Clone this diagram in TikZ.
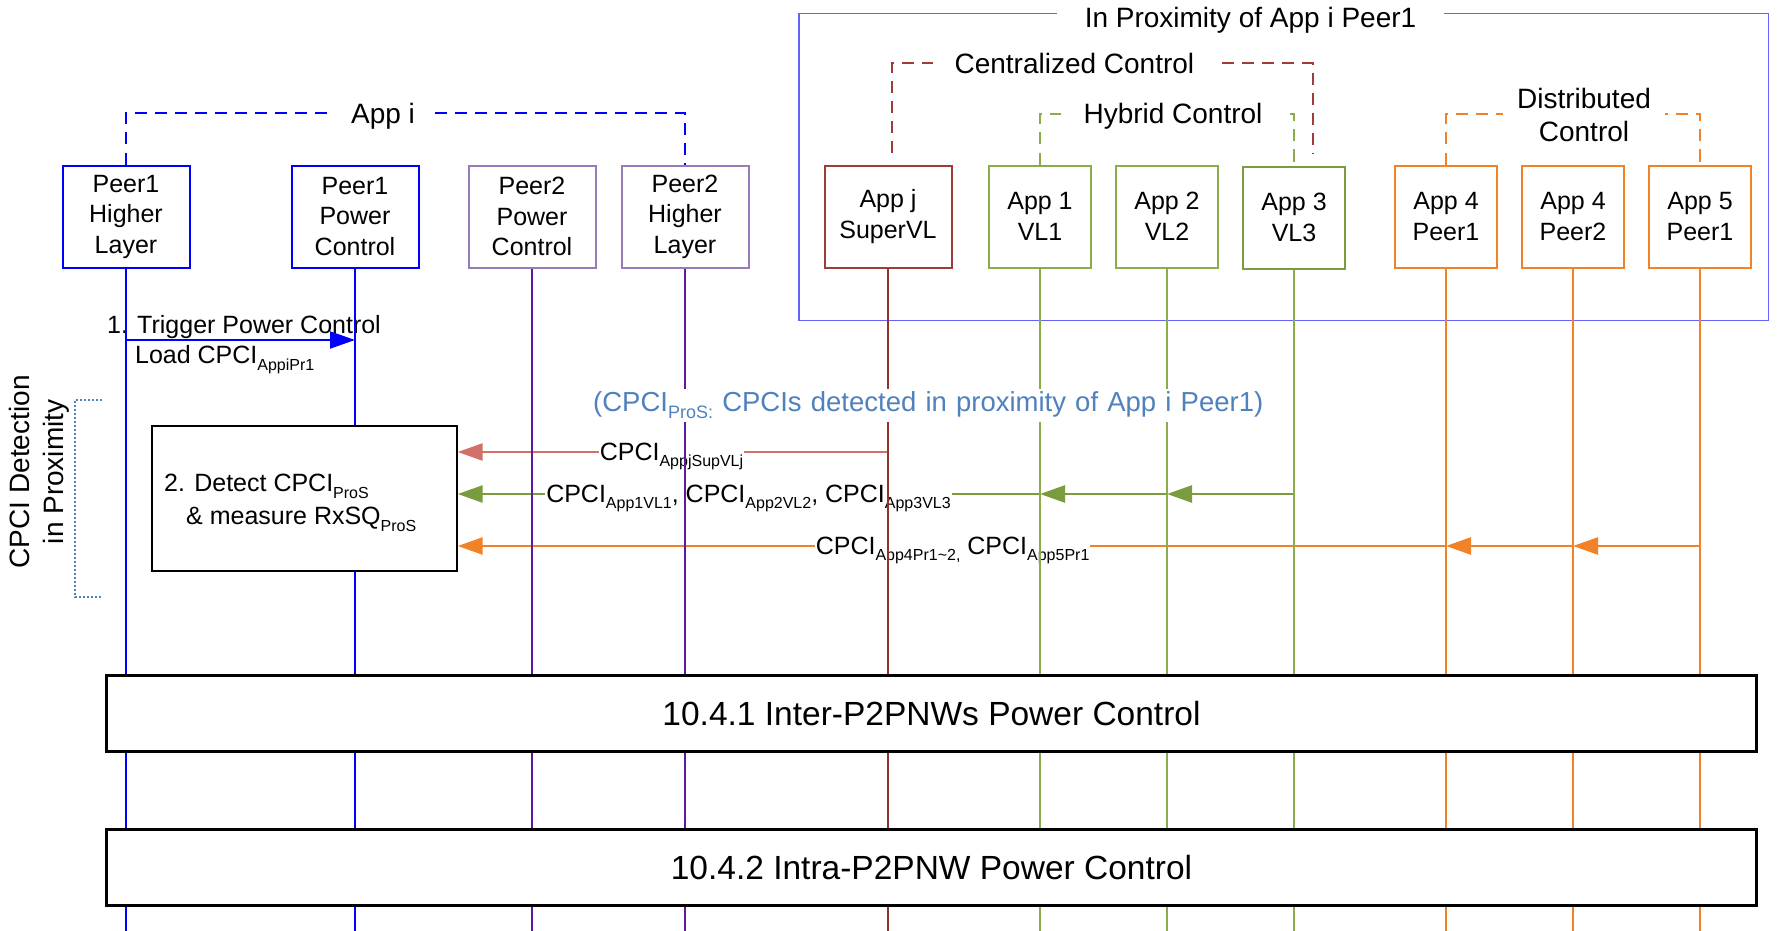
\documentclass[tikz,border=0pt]{standalone}
\usepackage{fontspec}
\setmainfont{Liberation Sans}
\usetikzlibrary{arrows.meta}
\pgfdeclarelayer{bg}
\pgfsetlayers{bg,main}
\definecolor{cblue}{RGB}{0,0,255}
\definecolor{cframe}{RGB}{100,100,250}
\definecolor{cpurp}{RGB}{95,25,155}
\definecolor{cpurpbox}{RGB}{150,125,185}
\definecolor{cred}{RGB}{160,60,56}
\definecolor{credl}{RGB}{150,50,45}
\definecolor{carrR}{RGB}{209,112,104}
\definecolor{cgreen}{RGB}{140,172,75}
\definecolor{cgreend}{RGB}{122,155,62}
\definecolor{corange}{RGB}{242,130,40}
\definecolor{cnote}{RGB}{79,129,189}
\newcommand\sbA[1]{\raisebox{-6.5pt}{\fontsize{16}{16}\selectfont #1}}
\newcommand\sbB[1]{\raisebox{-7pt}{\fontsize{18}{18}\selectfont #1}}
\begin{document}
\begin{tikzpicture}[x=1pt,y=-1pt,
  hdr/.style={draw, line width=2pt, fill=white, minimum height=102pt, inner sep=0pt, align=center, font=\fontsize{25}{30.5}\selectfont},
  wbox/.style={hdr, minimum width=127pt},
  nbox/.style={hdr, minimum width=102pt},
  grplbl/.style={fill=white, font=\fontsize{28}{33.4}\selectfont, inner ysep=2pt},
  life/.style={line width=2pt},
  dsh/.style={line width=2pt, dash pattern=on 12pt off 8pt},
  msg/.style={line width=2.5pt, -{Triangle[length=25pt,width=17pt]}},
  mlbl/.style={fill=white, inner sep=1pt, anchor=base, font=\fontsize{25}{30}\selectfont},
  txt/.style={inner sep=0pt, font=\fontsize{25}{30}\selectfont},
  band/.style={draw, line width=2.5pt, fill=white, minimum width=1650pt, minimum height=76pt, inner sep=0pt, font=\fontsize{33.5}{40}\selectfont}
]
\useasboundingbox (0,0) rectangle (1777,931);
\coordinate (bot) at (0,931);

% header boxes
\node[wbox, draw=cblue] (p1hl) at (126,216.5) {Peer1\\Higher\\Layer};
\node[wbox, draw=cblue] (p1pc) at (355,216.5) {Peer1\\Power\\Control};
\node[wbox, draw=cpurpbox] (p2pc) at (532,216.5) {Peer2\\Power\\Control};
\node[wbox, draw=cpurpbox] (p2hl) at (685,216.5) {Peer2\\Higher\\Layer};
\node[wbox, draw=cred] (appj) at (888,216.5) {App j\\SuperVL};
\node[nbox, draw=cgreen] (app1) at (1040,216.5) {App 1\\VL1};
\node[nbox, draw=cgreen] (app2) at (1167,216.5) {App 2\\VL2};
\node[nbox, draw=cgreend] (app3) at (1294,217.5) {App 3\\VL3};
\node[nbox, draw=corange] (a4p1) at (1446,216.5) {App 4\\Peer1};
\node[nbox, draw=corange] (a4p2) at (1573,216.5) {App 4\\Peer2};
\node[nbox, draw=corange] (a5p1) at (1700,216.5) {App 5\\Peer1};

% App i group
\coordinate (ai) at (0,113.3);
\draw[dsh, cblue] (p1hl.north) -- (p1hl.north |- ai) -- (p2hl.north |- ai) -- (p2hl.north);
\node[grplbl, inner xsep=19pt, anchor=base] (appi) at (383,123.3) {App i};

% proximity frame
\node[draw=cframe, line width=1.5pt, minimum width=969.6pt, minimum height=307.2pt, inner sep=0pt] (prox) at (1283.8,167.1) {};
\node[grplbl, inner xsep=28pt, anchor=base] (proxt) at (1250.5,27.3) {In Proximity of App i Peer1};

% centralized
\coordinate (ccl) at (892,153);
\coordinate (ccr) at (1312.7,153);
\coordinate (ct) at (0,63.3);
\draw[dsh, cred] (ccl) -- (ccl |- ct) -- (ccr |- ct) -- (ccr);
\node[grplbl, inner xsep=22pt, anchor=base] (cent) at (1074.4,74) {Centralized Control};

% hybrid
\coordinate (hy) at (0,114);
\draw[dsh, cgreen] (app1.north) -- (app1.north |- hy) -- (app3.north |- hy) -- (app3.north);
\node[grplbl, inner xsep=23pt, anchor=base] (hyb) at (1173,124) {Hybrid Control};

% distributed
\coordinate (dy) at (0,114);
\draw[dsh, corange] (a4p1.north) -- (a4p1.north |- dy) -- (a5p1.north |- dy) -- (a5p1.north);
\node[grplbl, inner xsep=14pt, align=center] (dist) at (1584,114.8) {Distributed\\Control};

% lifelines
\foreach \n/\c in {p1hl/cblue,p1pc/cblue,p2pc/cpurp,p2hl/cpurp,appj/credl,app1/cgreen,app2/cgreen,app3/cgreen,a4p1/corange,a4p2/corange,a5p1/corange}
  \draw[life,\c] (\n.south) -- (\n.south |- bot);

% note
\node[fill=white, text=cnote, font=\fontsize{27.5}{33}\selectfont, anchor=base west, text width=694pt, align=left, inner xsep=3pt, inner ysep=3pt] (note) at (590,411.7) {(CPCI\sbB{ProS:} CPCIs detected in proximity of App i Peer1)};

% detect box
\node[draw, line width=2pt, fill=white, minimum width=304.8pt, minimum height=145pt, inner sep=0pt] (det) at (304.3,498.5) {};
\node[txt, anchor=base west] (d1) at (164,491.8) {2. Detect CPCI\sbA{ProS}};
\node[txt, anchor=base west] (d2) at (186,524.7) {\& measure RxSQ\sbA{ProS}};

% bands
\node[band] (b1) at (931.5,713.5) {10.4.1 Inter-P2PNWs Power Control};
\node[band] (b2) at (931.5,867.5) {10.4.2 Intra-P2PNW Power Control};

% side label and bracket
\node[rotate=90, align=center, inner sep=0pt, font=\fontsize{28}{34}\selectfont] (cdp) at (39.7,471.8) {CPCI Detection\\in Proximity};
\coordinate (bkt) at (102,400);
\coordinate (bkc) at (75,400);
\coordinate (bkb) at (102,597.2);
\draw[cnote, line width=2pt, dash pattern=on 2pt off 2pt] (bkt) -- (bkc) |- (bkb);

% messages (below lifelines)
\begin{pgfonlayer}{bg}
\coordinate (m1) at (0,340);
\draw[msg, cblue, line width=2pt] (p1hl.south |- m1) -- (p1pc.south |- m1);
\node[txt, anchor=base] (m1a) at (244,333) {1. Trigger Power Control};
\node[txt, anchor=base west] (m1b) at (134.9,363.7) {Load CPCI\sbA{AppiPr1}};

\coordinate (yr) at (0,452);
\coordinate (yg) at (0,494);
\coordinate (yo) at (0,546);
\draw[msg, carrR] (appj.south |- yr) -- (det.east |- yr);
\node[mlbl] (lr) at (671.5,460) {CPCI\sbA{AppjSupVLj}};

\draw[msg, cgreend] (app3.south |- yg) -- (app2.south |- yg);
\draw[msg, cgreend] (app2.south |- yg) -- (app1.south |- yg);
\draw[msg, cgreend] (app1.south |- yg) -- (det.east |- yg);
\node[mlbl] (lg) at (748.5,502) {CPCI\sbA{App1VL1}, CPCI\sbA{App2VL2}, CPCI\sbA{App3VL3}};

\draw[msg, corange] (a5p1.south |- yo) -- (a4p2.south |- yo);
\draw[msg, corange] (a4p2.south |- yo) -- (a4p1.south |- yo);
\draw[msg, corange] (a4p1.south |- yo) -- (det.east |- yo);
\node[mlbl] (lo) at (952.6,554) {CPCI\sbA{App4Pr1\textasciitilde2,} CPCI\sbA{App5Pr1}};
\end{pgfonlayer}
\end{tikzpicture}
\end{document}
